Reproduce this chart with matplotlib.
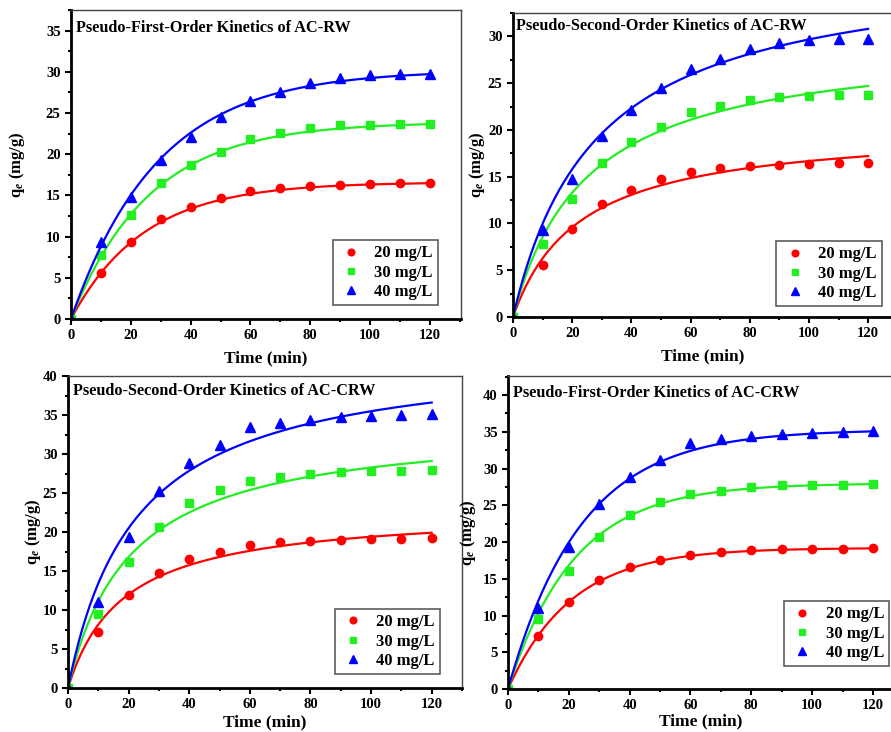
import numpy as np
import matplotlib
matplotlib.use('Agg')
import matplotlib.pyplot as plt
from matplotlib.ticker import MultipleLocator, AutoMinorLocator

plt.rcParams['font.family'] = ['Liberation Serif', 'DejaVu Serif']
plt.rcParams['font.weight'] = 'bold'
plt.rcParams['mathtext.fontset'] = 'custom'
plt.rcParams['mathtext.rm'] = 'Liberation Serif:bold'
plt.rcParams['mathtext.it'] = 'Liberation Serif:italic:bold'

# tempo de contato (min)
t = [0, 10, 20, 30, 40, 50, 60, 70, 80, 90, 100, 110, 120]
concs = ['20 mg/L', '30 mg/L', '40 mg/L']

# dados experimentais AC-RW
rw_20 = [0, 5.6, 9.4, 12.1, 13.6, 14.7, 15.5, 15.9, 16.1, 16.3, 16.4, 16.5, 16.5]
rw_30 = [0, 7.8, 12.6, 16.5, 18.7, 20.3, 21.9, 22.6, 23.2, 23.5, 23.6, 23.7, 23.7]
rw_40 = [0, 9.3, 14.8, 19.3, 22.1, 24.5, 26.5, 27.6, 28.6, 29.3, 29.6, 29.7, 29.7]

# dados experimentais AC-CRW
crw_20 = [0, 7.2, 11.9, 14.8, 16.6, 17.5, 18.3, 18.7, 18.9, 19.0, 19.1, 19.1, 19.2]
crw_30 = [0, 9.5, 16.1, 20.7, 23.7, 25.4, 26.6, 27.0, 27.5, 27.7, 27.8, 27.8, 27.9]
crw_40 = [0, 11.0, 19.3, 25.2, 28.9, 31.2, 33.5, 34.0, 34.4, 34.7, 34.9, 35.0, 35.1]

# parametros ajustados (qe, k1) pseudo-primeira ordem
pfo_rw = [(16.6, 0.041), (23.9, 0.038), (30.2, 0.0345)]
pfo_crw = [(19.2, 0.048), (28.0, 0.046), (35.3, 0.0417)]
# parametros ajustados (qe, h) pseudo-segunda ordem
pso_rw = [(20.44, 0.905), (29.81, 1.20), (38.02, 1.352)]
pso_crw = [(22.92, 1.26), (34.09, 1.656), (43.42, 1.942)]

cores = ['#ff0000', '#22ee22', '#0000ff']
marcadores = ['o', 's', '^']
tamanhos = [6, 5.8, 7.5]

W, H = 891, 732
t_fit = np.linspace(0, 120, 300)


def pfo(tt, qe, k):
    return qe * (1 - np.exp(-k * tt))


def pso(tt, qe, h):
    return h * tt / (1 + h * tt / qe)


def painel(box, dados, params, modelo, titulo, xmax, ymax, ymaj, leg_pos, tit_pos, ylab_x, xlab_pad):
    l, r, top, bot = box
    ax = fig.add_axes([l / W, (H - bot) / H, (r - l) / W, (bot - top) / H])
    for y, (qe, k), c, m, s, lab in zip(dados, params, cores, marcadores, tamanhos, concs):
        ax.plot(t_fit, modelo(t_fit, qe, k), color=c, lw=1.6)
        ax.plot(t, y, m, color=c, ms=s, mec=c, ls='none', label=lab)
    ax.set_xlim(0, xmax)
    ax.set_ylim(0, ymax)
    ax.xaxis.set_major_locator(MultipleLocator(20))
    ax.xaxis.set_minor_locator(MultipleLocator(10))
    ax.yaxis.set_major_locator(MultipleLocator(ymaj))
    ax.yaxis.set_minor_locator(AutoMinorLocator(2))
    ax.tick_params(which='both', direction='out', width=1.5, labelsize=10.5, top=False, right=False)
    ax.tick_params(which='major', length=4)
    ax.tick_params(which='minor', length=2.5)
    for lbl in ax.get_xticklabels() + ax.get_yticklabels():
        lbl.set_fontweight('bold')
    ax.spines['left'].set_linewidth(2)
    ax.spines['bottom'].set_linewidth(2)
    ax.spines['top'].set_linewidth(1)
    ax.spines['right'].set_linewidth(1)
    ax.spines['top'].set_color('#444444')
    ax.spines['right'].set_color('#444444')
    ax.set_xlabel('Time (min)', fontsize=12.5, fontweight='bold', labelpad=xlab_pad)
    ax.set_ylabel(r'q$_e$ (mg/g)', fontsize=12, fontweight='bold')
    ax.yaxis.set_label_coords((ylab_x - l) / (r - l), 0.5)
    ax.text((tit_pos[0] - l) / (r - l), (bot - tit_pos[1]) / (bot - top), titulo,
            transform=ax.transAxes, fontsize=11.7, fontweight='bold', va='center', ha='left')
    leg = ax.legend(loc='lower right', bbox_to_anchor=leg_pos, borderaxespad=0,
                    prop={'size': 12, 'weight': 'bold'}, frameon=True, fancybox=False,
                    handletextpad=0.6, labelspacing=0.2, borderpad=0.3, handlelength=1.6,
                    markerscale=0.8)
    leg.get_frame().set_edgecolor('#333333')
    leg.get_frame().set_linewidth(1.2)
    return ax


fig = plt.figure(figsize=(W / 100, H / 100), dpi=100)

painel((71, 461, 10, 319), [rw_20, rw_30, rw_40], pfo_rw, pfo,
       'Pseudo-First-Order Kinetics of AC-RW', 130.4, 37.5, 5,
       (0.941, 0.045), (76, 28), 27, 6)
painel((513, 893, 13, 317), [rw_20, rw_30, rw_40], pso_rw, pso,
       'Pseudo-Second-Order Kinetics of AC-RW', 128.4, 32.5, 5,
       (0.97, 0.036), (516, 26), 487, 6)
painel((68, 462, 376, 688), [crw_20, crw_30, crw_40], pso_crw, pso,
       'Pseudo-Second-Order Kinetics of AC-CRW', 130, 40, 5,
       (0.944, 0.045), (73, 391), 43, 2)
painel((508, 893, 376, 689), [crw_20, crw_30, crw_40], pfo_crw, pfo,
       'Pseudo-First-Order Kinetics of AC-CRW', 126.6, 42.6, 5,
       (0.99, 0.073), (513, 393), 478, 1)

fig.savefig('out.png', dpi=100)
